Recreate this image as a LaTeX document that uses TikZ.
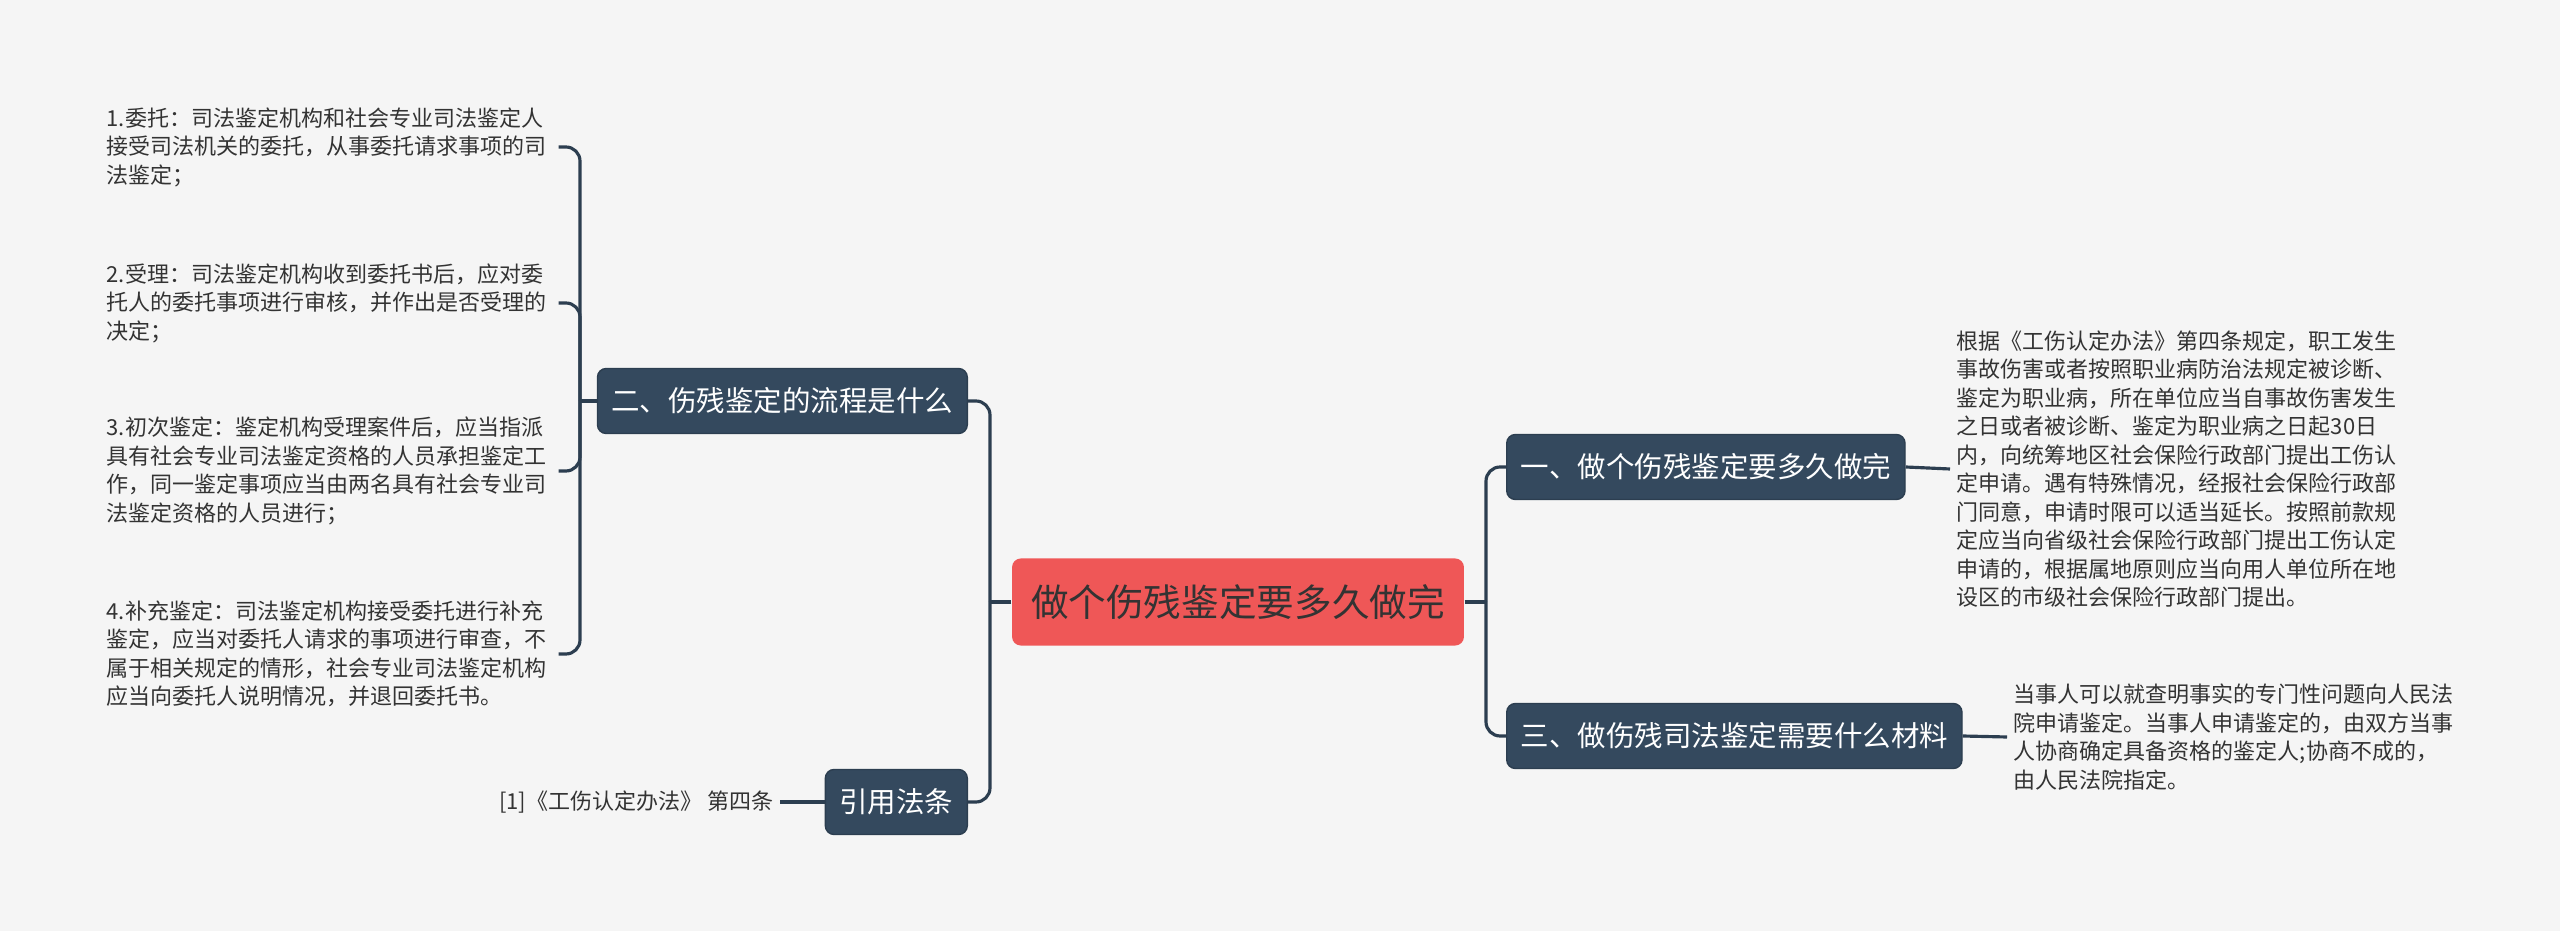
\documentclass[tikz,border=0pt]{standalone}
\usepackage{fontspec}
\setmainfont{Noto Sans CJK SC}
\usepackage{xcolor}
\usepackage{tikz}
\usetikzlibrary{positioning, calc}
\definecolor{bgcol}{HTML}{F5F5F5}
\definecolor{navy}{HTML}{34495E}
\definecolor{linecol}{HTML}{2C3E50}
\definecolor{rootred}{HTML}{EF5757}
\definecolor{inkcol}{HTML}{333333}
\tikzstyle{central} = [rectangle, rounded corners=2.5pt, minimum height=0.87cm, inner xsep=0.19cm, text centered, fill=rootred, text=inkcol, font=\fontsize{10.7pt}{12pt}\selectfont]
\tikzstyle{topic} = [rectangle, rounded corners=2.5pt, minimum height=0.65cm, inner xsep=0.14cm, text centered, draw=linecol, fill=navy, text=white, font=\fontsize{8.1pt}{10pt}\selectfont]
\tikzstyle{leaf} = [align=left, text width=4.45cm, inner sep=0.06cm, text=inkcol, font=\fontsize{6.26pt}{8.1pt}\selectfont]
\tikzstyle{link} = [line width=0.9pt, draw=linecol, rounded corners=4pt]

\begin{document}
\begin{tikzpicture}[x=0.01cm, y=-0.01cm]
  \fill[bgcol] (0,0) rectangle (2560,931);

  \node (root) [central] at (1238,602) {做个伤残鉴定要多久做完};
  \node (b2) [topic, anchor=east] at (968,401) {二、伤残鉴定的流程是什么};
  \node (b4) [topic, anchor=east] at (968,802) {引用法条};
  \node (b1) [topic, anchor=west] at (1506,467) {一、做个伤残鉴定要多久做完};
  \node (b3) [topic, anchor=west] at (1506,736) {三、做伤残司法鉴定需要什么材料};

  \node (l1) [leaf, anchor=west] at (100,147) {1.委托：司法鉴定机构和社会专业司法鉴定人\\接受司法机关的委托，从事委托请求事项的司\\法鉴定；};
  \node (l2) [leaf, anchor=west] at (100,303) {2.受理：司法鉴定机构收到委托书后，应对委\\托人的委托事项进行审核，并作出是否受理的\\决定；};
  \node (l3) [leaf, anchor=west] at (100,471) {3.初次鉴定：鉴定机构受理案件后，应当指派\\具有社会专业司法鉴定资格的人员承担鉴定工\\作，同一鉴定事项应当由两名具有社会专业司\\法鉴定资格的人员进行；};
  \node (l4) [leaf, anchor=west] at (100,654) {4.补充鉴定：司法鉴定机构接受委托进行补充\\鉴定，应当对委托人请求的事项进行审查，不\\属于相关规定的情形，社会专业司法鉴定机构\\应当向委托人说明情况，并退回委托书。};
  \node (cite) [leaf, text width=, anchor=east] at (780,802) {[1]《工伤认定办法》 第四条};
  \node (r1) [leaf, anchor=west] at (1950,469) {根据《工伤认定办法》第四条规定，职工发生\\事故伤害或者按照职业病防治法规定被诊断、\\鉴定为职业病，所在单位应当自事故伤害发生\\之日或者被诊断、鉴定为职业病之日起30日\\内，向统筹地区社会保险行政部门提出工伤认\\定申请。遇有特殊情况，经报社会保险行政部\\门同意，申请时限可以适当延长。按照前款规\\定应当向省级社会保险行政部门提出工伤认定\\申请的，根据属地原则应当向用人单位所在地\\设区的市级社会保险行政部门提出。};
  \node (r3) [leaf, anchor=west] at (2007,737) {当事人可以就查明事实的专门性问题向人民法\\院申请鉴定。当事人申请鉴定的，由双方当事\\人协商确定具备资格的鉴定人;协商不成的，\\由人民法院指定。};

  \coordinate (lj) at (990,602);
  \coordinate (rj) at (1486,602);
  \coordinate (pj) at (580,401);

  \draw[link] (root.west) -- (lj);
  \draw[link] (lj) |- (b2.east);
  \draw[link] (lj) |- (b4.east);
  \draw[link] (root.east) -- (rj);
  \draw[link] (rj) |- (b1.west);
  \draw[link] (rj) |- (b3.west);
  \draw[link] (b2.west) -- (pj);
  \draw[link] (pj) |- (l1.east);
  \draw[link] (pj) |- (l2.east);
  \draw[link] (pj) |- (l3.east);
  \draw[link] (pj) |- (l4.east);
  \draw[link] (b1.east) -- (r1.west);
  \draw[link] (b3.east) -- (r3.west);
  \draw[link] (cite.east) -- (b4.west);
\end{tikzpicture}
\end{document}
